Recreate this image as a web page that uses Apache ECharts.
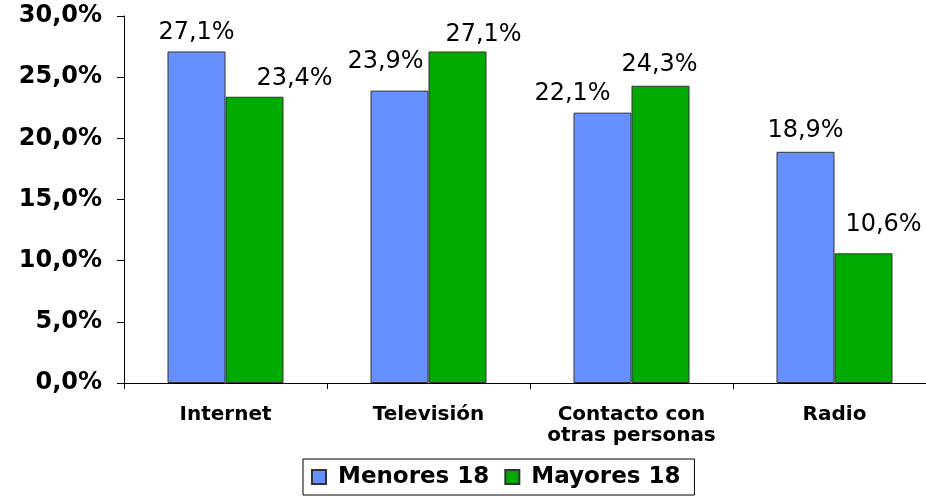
<!DOCTYPE html>
<html>
<head>
<meta charset="utf-8">
<script src="https://cdn.jsdelivr.net/npm/echarts@6/dist/echarts.min.js"></script>
<style>
  html, body { margin: 0; padding: 0; background: #fff; overflow: hidden; }
  /* the plot area runs slightly past the right edge of the window */
  #chart { width: 940px; height: 497px; }
</style>
</head>
<body>
<div id="chart"></div>
<script>
// Medios de información por grupo de edad (porcentaje)
const categories = ['Internet', 'Televisión', 'Contacto con\notras personas', 'Radio'];
const menores18 = [27.1, 23.9, 22.1, 18.9];
const mayores18 = [23.4, 27.1, 24.3, 10.6];
const seriesNames = ['Menores 18', 'Mayores 18'];
const yTicks = [0, 5, 10, 15, 20, 25, 30];

const FONT = '"DejaVu Sans", Verdana, sans-serif';
const fmt = v => v.toFixed(1).replace('.', ',') + '%';

// Label nudges [dx, dy] so neighbouring value labels don't collide
const nudgeMenores = [[0, 1], [-14, -9], [-30, 1], [0, -1]];
const nudgeMayores = [[40, 2], [26, 3], [-1, -1], [20, -9]];

function withLabels(values, nudges) {
  return values.map((v, i) => ({
    value: v,
    label: { offset: nudges[i] }
  }));
}

const chart = echarts.init(document.getElementById('chart'), null, { renderer: 'canvas' });

const barLabel = {
  show: true,
  position: 'top',
  distance: 8,
  color: '#000',
  fontFamily: FONT,
  fontSize: 24,
  formatter: p => fmt(p.value)
};

chart.setOption({
  animation: false,
  backgroundColor: '#ffffff',
  grid: { left: 124, top: 16, width: 812, height: 367, containLabel: false },
  legend: {
    data: seriesNames,
    left: 303,
    top: 459,
    orient: 'horizontal',
    icon: 'rect',
    itemWidth: 14,
    itemHeight: 14,
    itemGap: 11,
    padding: [6, 10, 6, 8],
    borderColor: '#000',
    borderWidth: 1,
    textStyle: {
      fontFamily: FONT, fontSize: 23, fontWeight: 'bold', color: '#000',
      lineHeight: 24, padding: [0, 4, 0, 7]
    }
  },
  xAxis: {
    type: 'category',
    data: categories,
    axisLine: { lineStyle: { color: '#000', width: 1 } },
    axisTick: { show: true, length: 6, alignWithLabel: false, lineStyle: { color: '#000' } },
    axisLabel: {
      margin: 21,
      color: '#000',
      fontFamily: FONT,
      fontSize: 20,
      fontWeight: 'bold',
      lineHeight: 21,
      interval: 0
    }
  },
  yAxis: {
    type: 'value',
    min: yTicks[0],
    max: yTicks[yTicks.length - 1],
    interval: yTicks[1] - yTicks[0],
    axisLine: { show: true, lineStyle: { color: '#000', width: 1 } },
    axisTick: { show: true, length: 7, lineStyle: { color: '#000' } },
    splitLine: { show: false },
    axisLabel: {
      margin: 22,
      color: '#000',
      fontFamily: FONT,
      fontSize: 24,
      fontWeight: 'bold',
      formatter: v => fmt(v)
    }
  },
  series: [
    {
      name: seriesNames[0],
      type: 'bar',
      barWidth: 58,
      barGap: '0%',
      itemStyle: { color: '#6690FF', borderColor: '#333', borderWidth: 1 },
      label: barLabel,
      data: withLabels(menores18, nudgeMenores)
    },
    {
      name: seriesNames[1],
      type: 'bar',
      barWidth: 58,
      barGap: '0%',
      itemStyle: { color: '#00AA00', borderColor: '#333', borderWidth: 1 },
      label: barLabel,
      data: withLabels(mayores18, nudgeMayores)
    }
  ]
});
</script>
</body>
</html>
